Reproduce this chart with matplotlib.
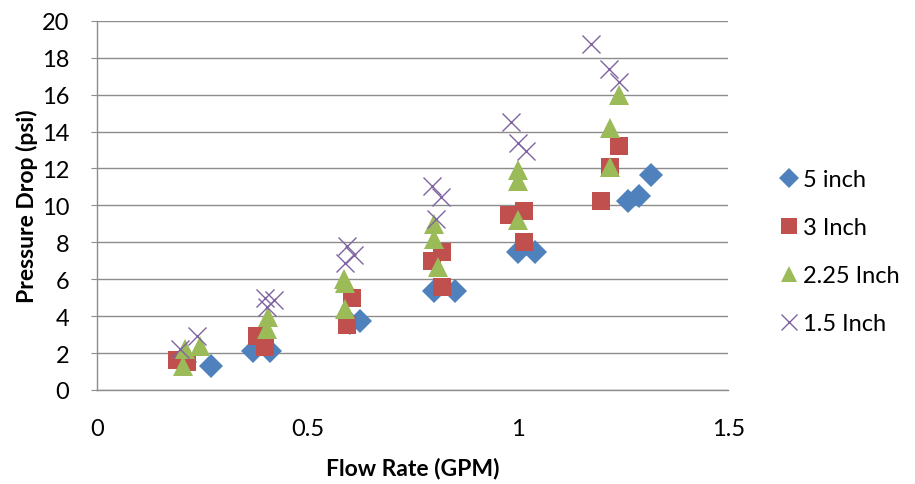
import matplotlib.pyplot as plt

plt.rcParams["font.family"] = ["Lato", "DejaVu Sans"]

# flow rate (GPM) and pressure drop (psi) per tube diameter
x_5in = [0.21, 0.27, 0.37, 0.41, 0.60, 0.626, 0.80, 0.85, 1.00, 1.04, 1.262, 1.288, 1.317]
y_5in = [1.5, 1.3, 2.1, 2.1, 3.6, 3.75, 5.35, 5.35, 7.5, 7.45, 10.25, 10.5, 11.65]

x_3in = [0.19, 0.215, 0.38, 0.40, 0.595, 0.607, 0.797, 0.82, 0.82, 0.98, 1.015, 1.015, 1.198, 1.218, 1.24]
y_3in = [1.6, 1.5, 2.9, 2.3, 3.5, 5.0, 7.0, 7.5, 5.6, 9.5, 9.7, 8.0, 10.25, 12.1, 13.2]

x_225in = [0.205, 0.21, 0.245, 0.407, 0.405, 0.586, 0.59, 0.59, 0.80, 0.80, 0.81, 1.00, 1.00, 1.00, 1.24, 1.218, 1.218]
y_225in = [1.3, 2.2, 2.4, 3.95, 3.3, 6.0, 5.8, 4.4, 9.0, 8.2, 6.65, 11.9, 11.3, 9.2, 16.0, 14.2, 12.1]

x_15in = [0.198, 0.238, 0.40, 0.42, 0.405, 0.595, 0.61, 0.59, 0.797, 0.817, 0.805, 0.983, 1.00, 1.02, 1.174, 1.217, 1.24]
y_15in = [2.2, 2.9, 5.0, 4.85, 4.5, 7.8, 7.3, 6.9, 11.05, 10.45, 9.25, 14.5, 13.4, 12.95, 18.75, 17.4, 16.7]

SERIES = [
    ("5 inch", x_5in, y_5in, "D", "#4F81BD", 12),
    ("3 Inch", x_3in, y_3in, "s", "#C0504D", 13),
    ("2.25 Inch", x_225in, y_225in, "^", "#9BBB59", 14),
    ("1.5 Inch", x_15in, y_15in, "x", "#8064A2", 13),
]

X_TICKS = [0, 0.5, 1, 1.5]
X_TICK_LABELS = ["0", "0.5", "1", "1.5"]
Y_TICKS = list(range(0, 21, 2))


def main():
    fig = plt.figure(figsize=(9.15, 4.85), dpi=100)
    ax = fig.add_axes([0.106, 0.194, 0.69, 0.761])

    for label, xs, ys, marker, color, size in SERIES:
        if marker == "x":
            ax.plot(xs, ys, linestyle="none", marker=marker, color=color,
                    markersize=size, markeredgewidth=1.0, label=label, zorder=3)
        else:
            ax.plot(xs, ys, linestyle="none", marker=marker, color=color,
                    markersize=size, markeredgewidth=0, label=label, zorder=3)

    ax.set_xlim(0, 1.5)
    ax.set_ylim(0, 20)
    ax.set_xticks(X_TICKS)
    ax.set_xticklabels(X_TICK_LABELS)
    ax.set_yticks(Y_TICKS)

    ax.grid(axis="y", color="#8C8C8C", linewidth=1.0)
    ax.set_axisbelow(True)

    for side in ["top", "right"]:
        ax.spines[side].set_visible(False)
    for side in ["left", "bottom"]:
        ax.spines[side].set_color("#8C8C8C")
        ax.spines[side].set_linewidth(1.0)

    ax.tick_params(axis="y", length=4, color="#8C8C8C", labelsize=17, pad=16)
    ax.tick_params(axis="x", length=0, labelsize=17, pad=20)

    ax.set_xlabel("Flow Rate (GPM)", fontsize=16.5, fontweight="bold", labelpad=13)
    ax.set_ylabel("Pressure Drop (psi)", fontsize=16.5, fontweight="bold", labelpad=3)

    ax.legend(
        loc="center left",
        bbox_to_anchor=(1.049, 0.375),
        frameon=False,
        fontsize=17,
        labelspacing=1.14,
        handlelength=0.7,
        handletextpad=0.25,
        markerscale=0.85,
    )

    fig.savefig("out.png", dpi=100)


if __name__ == "__main__":
    main()
